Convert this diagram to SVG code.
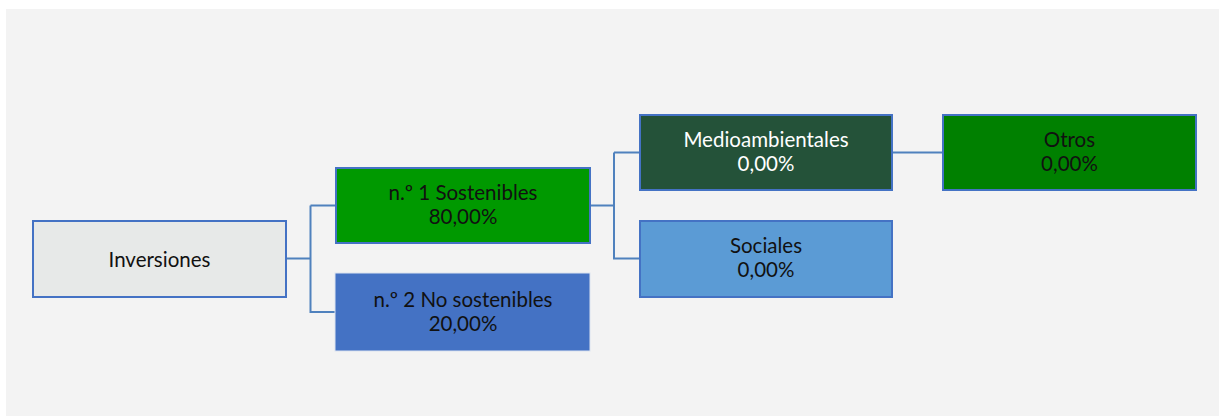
<svg xmlns="http://www.w3.org/2000/svg" width="1219" height="416" viewBox="0 0 1219 416">
<style>
.box{stroke:#4472C4;stroke-width:2}
.t{font-family:"Lato","Liberation Sans",sans-serif;font-size:20.5px;text-anchor:middle;fill:#111}
.w{fill:#ffffff}
.c{fill:none;stroke:#4F81BD;stroke-width:2}
</style>
<rect x="0" y="0" width="1219" height="416" fill="#ffffff"/>
<rect x="6" y="9" width="1213" height="407" fill="#F3F3F3"/>
<g id="connectors">
<path class="c" d="M286 258.5H310.5M310.5 205.5V312H335M310.5 205.5H335"/>
<path class="c" d="M590 205.5H614M614 152.5V258.5H639M614 152.5H639"/>
<path class="c" d="M892 152.5H942"/>
</g>
<g id="inversiones">
<rect class="box" x="33" y="221" width="253" height="76" fill="#E7E9E8"/>
<text class="t" x="159.5" y="266.5">Inversiones</text>
</g>
<g id="sostenibles">
<rect class="box" x="336" y="168" width="254" height="75" fill="#009900"/>
<text class="t" x="463" y="200">n.º 1 Sostenibles</text>
<text class="t" x="463" y="224">80,00%</text>
</g>
<g id="nosostenibles">
<rect x="335" y="273" width="255" height="78" fill="#4472C4" stroke="#DCE3F0" stroke-width="1"/>
<text class="t" x="463" y="307">n.º 2 No sostenibles</text>
<text class="t" x="463" y="331">20,00%</text>
</g>
<g id="medioambientales">
<rect class="box" x="640" y="115" width="252" height="75" fill="#245239"/>
<text class="t w" x="766" y="147">Medioambientales</text>
<text class="t w" x="766" y="171">0,00%</text>
</g>
<g id="otros">
<rect class="box" x="943" y="115" width="253" height="75" fill="#008000"/>
<text class="t" x="1069.5" y="147">Otros</text>
<text class="t" x="1069.5" y="171">0,00%</text>
</g>
<g id="sociales">
<rect class="box" x="640" y="221" width="252" height="76" fill="#5B9BD5"/>
<text class="t" x="766" y="253">Sociales</text>
<text class="t" x="766" y="277">0,00%</text>
</g>
</svg>
